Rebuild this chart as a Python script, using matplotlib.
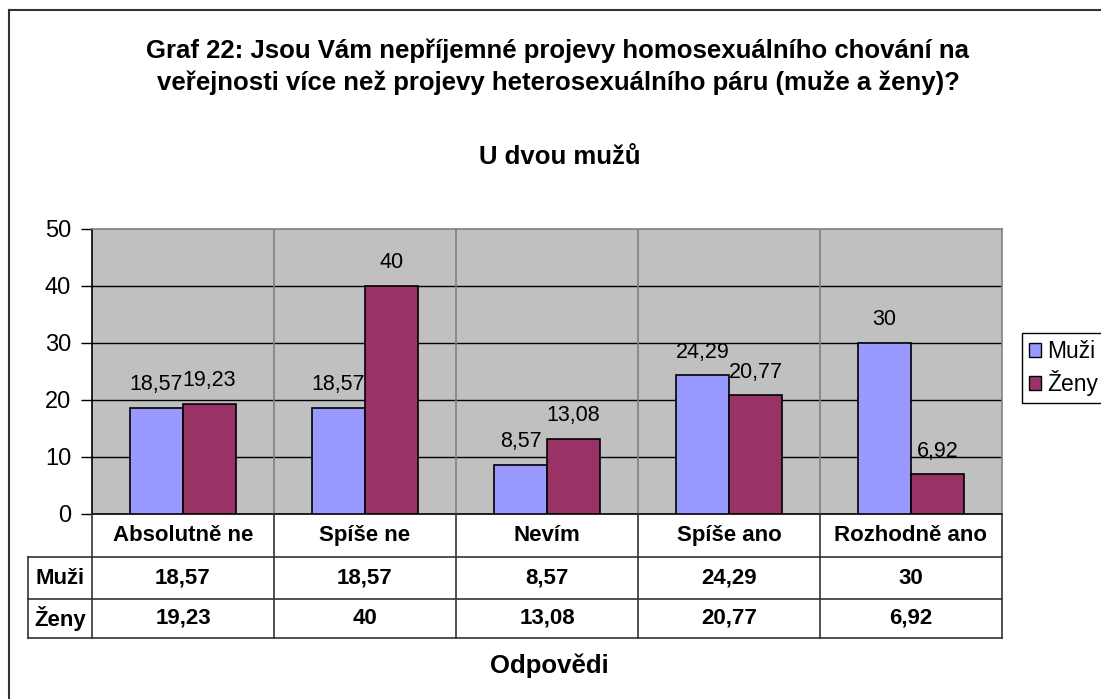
import matplotlib
matplotlib.use("Agg")
import matplotlib.pyplot as plt
from matplotlib.lines import Line2D
from matplotlib.patches import Patch
import numpy as np

categories = ["Absolutně ne", "Spíše ne", "Nevím", "Spíše ano", "Rozhodně ano"]
series_names = ["Muži", "Ženy"]
muzi = [18.57, 18.57, 8.57, 24.29, 30]
zeny = [19.23, 40, 13.08, 20.77, 6.92]
colors = ["#9999FF", "#993366"]
yticks = [0, 10, 20, 30, 40, 50]

W, H = 1101, 699
FONT = "Liberation Sans"


def fx(x):
    return x / W


def fy(y):
    return 1 - y / H


def fmt(v):
    s = f"{v:.2f}".rstrip("0").rstrip(".")
    return s.replace(".", ",")


def main() -> int:
    plt.rcParams["font.family"] = [FONT, "DejaVu Sans"]
    fig = plt.figure(figsize=(W / 100, H / 100), dpi=100)

    # outer chart frame (runs off right/bottom edge)
    fig.add_artist(Line2D([fx(9), fx(9)], [fy(10), fy(H + 5)], color="#333333", lw=1.5))
    fig.add_artist(Line2D([fx(9), fx(W + 5)], [fy(10), fy(10)], color="#333333", lw=1.5))

    # plot area
    left, right, top, bottom = 92, 1002, 228.5, 513.5
    ax = fig.add_axes([fx(left), fy(bottom), fx(right - left), (bottom - top) / H])
    ax.set_facecolor("#C0C0C0")
    ax.set_xlim(-0.5, len(categories) - 0.5)
    ax.set_ylim(0, 50)

    x = np.arange(len(categories))
    bw = 0.29
    for vals, col, off in [(muzi, colors[0], -bw / 2), (zeny, colors[1], bw / 2)]:
        ax.bar(x + off, vals, width=bw, color=col, edgecolor="black", linewidth=1.2, zorder=3)
        for xi, v in zip(x + off, vals):
            ax.text(xi, v + 2.2, fmt(v), ha="center", va="bottom", fontsize=15.5, zorder=4)

    for t in yticks[1:-1]:
        ax.axhline(t, color="black", lw=1, zorder=1)
    for b in np.arange(0.5, len(categories) - 0.5, 1):
        ax.axvline(b, color="#808080", lw=1.2, zorder=1)

    ax.set_yticks(yticks)
    ax.set_yticklabels([str(t) for t in yticks], fontsize=17)
    ax.tick_params(axis="y", length=8, width=1, pad=7, color="black")
    ax.set_xticks([])
    ax.spines["left"].set_color("black")
    ax.spines["top"].set_color("#808080")
    ax.spines["right"].set_color("#808080")
    ax.spines["bottom"].set_color("black")
    for s in ax.spines.values():
        s.set_linewidth(1.2)

    # data table below plot
    row_y = [513.5, 557, 599, 637.5]
    cw = (right - left) / len(categories)
    lc = "#333333"
    for yy in row_y[1:]:
        fig.add_artist(Line2D([fx(28), fx(right)], [fy(yy), fy(yy)], color=lc, lw=1.2))
    fig.add_artist(Line2D([fx(28), fx(28)], [fy(row_y[1]), fy(row_y[3])], color=lc, lw=1.2))
    for k in range(len(categories) + 1):
        xx = left + k * cw
        fig.add_artist(Line2D([fx(xx), fx(xx)], [fy(row_y[0]), fy(row_y[3])], color=lc, lw=1.2))

    tfs = 16
    for k, cat in enumerate(categories):
        cx = left + (k + 0.5) * cw
        fig.text(fx(cx), fy((row_y[0] + row_y[1]) / 2), cat, ha="center", va="center",
                 fontsize=tfs, fontweight="bold")
        fig.text(fx(cx), fy((row_y[1] + row_y[2]) / 2), fmt(muzi[k]), ha="center", va="center",
                 fontsize=tfs, fontweight="bold")
        fig.text(fx(cx), fy((row_y[2] + row_y[3]) / 2), fmt(zeny[k]), ha="center", va="center",
                 fontsize=tfs, fontweight="bold")
    for name, r in zip(series_names, [1, 2]):
        fig.text(fx(60), fy((row_y[r] + row_y[r + 1]) / 2), name, ha="center", va="center",
                 fontsize=tfs, fontweight="bold")

    # titles
    fig.text(fx(558), fy(51), "Graf 22: Jsou Vám nepříjemné projevy homosexuálního chování na",
             ha="center", va="center", fontsize=18.5, fontweight="bold")
    fig.text(fx(558), fy(83), "veřejnosti více než projevy heterosexuálního páru (muže a ženy)?",
             ha="center", va="center", fontsize=18.5, fontweight="bold")
    fig.text(fx(560), fy(157), "U dvou mužů", ha="center", va="center",
             fontsize=18.5, fontweight="bold")
    fig.text(fx(549), fy(666), "Odpovědi", ha="center", va="center",
             fontsize=18.5, fontweight="bold")

    # legend
    handles = [Patch(facecolor=c, edgecolor="black", linewidth=1) for c in colors]
    leg = fig.legend(handles, series_names, loc="upper left",
                     bbox_to_anchor=(fx(1022), fy(333)), fontsize=16.5,
                     handlelength=0.55, handleheight=0.55, handletextpad=0.25,
                     borderpad=0.3, labelspacing=0.3, borderaxespad=0,
                     fancybox=False, framealpha=1)
    leg.get_frame().set_edgecolor("black")
    leg.get_frame().set_linewidth(1)

    fig.savefig("out.png", dpi=100)
    plt.close(fig)
    return 0


if __name__ == "__main__":
    raise SystemExit(main())
